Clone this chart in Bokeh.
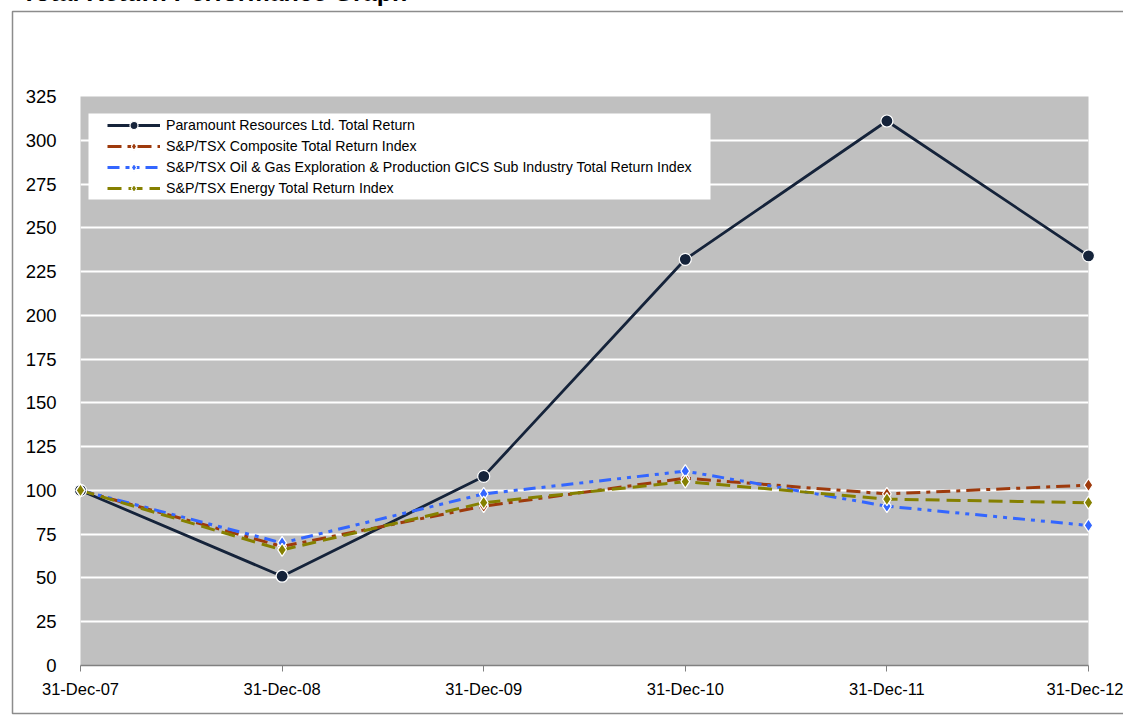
from bokeh.plotting import figure
from bokeh.models import FixedTicker, BoxAnnotation, Legend
from bokeh.core.properties import value
from bokeh.embed import file_html
from bokeh.resources import INLINE

dates = ["31-Dec-07", "31-Dec-08", "31-Dec-09", "31-Dec-10", "31-Dec-11", "31-Dec-12"]
paramount = [100, 51, 108, 232, 311, 234]
composite = [100, 68, 91, 107, 98, 103]
oil_gas = [100, 70, 98, 111, 91, 80]
energy = [100, 66, 93, 105, 95, 93]
y_ticks = list(range(0, 326, 25))

names = [
    "Paramount Resources Ltd. Total Return",
    "S&P/TSX Composite Total Return Index",
    "S&P/TSX Oil & Gas Exploration & Production GICS Sub Industry Total Return Index",
    "S&P/TSX Energy Total Return Index",
]
title_text = "Total Return Performance Graph"

FONT = "Liberation Sans"
xs = list(range(len(dates)))

W, H = 1123, 719
FL, FR, FT, FB = 80, 1088, 96, 665   # plot frame edges in page pixels
X0, X1 = 0, len(dates) - 1
Y0, Y1 = 0, 325


def px_x(px):
    return X0 + (px - FL) * (X1 - X0) / (FR - FL)


def px_y(py):
    return Y0 + (FB - py) * (Y1 - Y0) / (FB - FT)


p = figure(width=W, height=H, output_backend="svg", toolbar_location=None,
           x_range=(X0, X1), y_range=(Y0, Y1),
           min_border_left=FL, min_border_right=W - FR,
           min_border_top=FT, min_border_bottom=H - FB)
p.title.visible = False
p.background_fill_color = "#C0C0C0"
p.border_fill_color = "white"
p.outline_line_color = None

# legend box
p.add_layout(BoxAnnotation(left=88, right=710, top=113, bottom=199,
                           left_units="canvas", right_units="canvas",
                           top_units="canvas", bottom_units="canvas",
                           fill_color="white", fill_alpha=1, line_alpha=0,
                           level="annotation"))

p.xgrid.grid_line_color = None
p.ygrid.grid_line_color = "white"
p.ygrid.grid_line_width = 2
p.ygrid.ticker = FixedTicker(ticks=y_ticks)

p.yaxis.ticker = FixedTicker(ticks=y_ticks)
p.yaxis.axis_line_color = None
p.yaxis.major_tick_line_color = None
p.yaxis.minor_tick_line_color = None
p.yaxis.major_label_standoff = 18
p.yaxis.major_label_text_font = FONT
p.yaxis.major_label_text_font_size = "18.5px"
p.yaxis.major_label_text_color = "black"

p.xaxis.ticker = FixedTicker(ticks=xs)
p.xaxis.major_label_overrides = {i: d for i, d in enumerate(dates)}
p.xaxis.axis_line_color = "#808080"
p.xaxis.axis_line_width = 1.5
p.xaxis.major_tick_line_color = "#808080"
p.xaxis.major_tick_out = 6
p.xaxis.major_tick_in = 0
p.xaxis.minor_tick_line_color = None
p.xaxis.major_label_standoff = 8
p.xaxis.major_label_text_font = FONT
p.xaxis.major_label_text_font_size = "16.5px"
p.xaxis.major_label_text_color = "black"

series = [
    (paramount, "#15233A", None, "circle", 12),
    (composite, "#9E3A0C", "14 6 4 6", "diamond", 13),
    (oil_gas, "#3366FF", "12 6 4 6 4 6", "diamond", 13),
    (energy, "#858000", "14 7", "diamond", 13),
]

items = []
for name, (vals, col, dash, marker, size) in zip(names, series):
    kw = {}
    if dash:
        kw["line_dash"] = dash
    ln = p.line(xs, vals, line_color=col, line_width=2.8 if dash is None else 3, **kw)
    sc = p.scatter(xs, vals, marker=marker, size=size, fill_color=col,
                   line_color="white", line_width=1.2, level="overlay")
    items.append((name, [ln, sc]))

legend = Legend(items=items, location=(27, 467), orientation="vertical",
                label_text_font=FONT, label_text_font_size="14.2px",
                label_text_color="black", glyph_width=53, glyph_height=20,
                label_height=20, spacing=1, padding=0, margin=0,
                label_standoff=6, background_fill_alpha=0, border_line_alpha=0)
p.add_layout(legend)

# outer chart border (left, top, bottom; right edge lies beyond the page)
bl, bt, bb, br = 12, 11, 713, W + 20
p.line([px_x(br), px_x(bl), px_x(bl), px_x(br)],
       [px_y(bt), px_y(bt), px_y(bb), px_y(bb)],
       line_color="#8C8C8C", line_width=1.5, level="overlay")

# title, cut off by the top edge as in the original page
p.text(x=[px_x(21)], y=[px_y(-8.8)], text=[title_text],
       text_font=value(FONT), text_font_size="25px", text_font_style="bold",
       text_color="black", text_baseline="alphabetic", text_align="left",
       level="overlay")

open("out.html", "w").write(file_html(p, INLINE))
